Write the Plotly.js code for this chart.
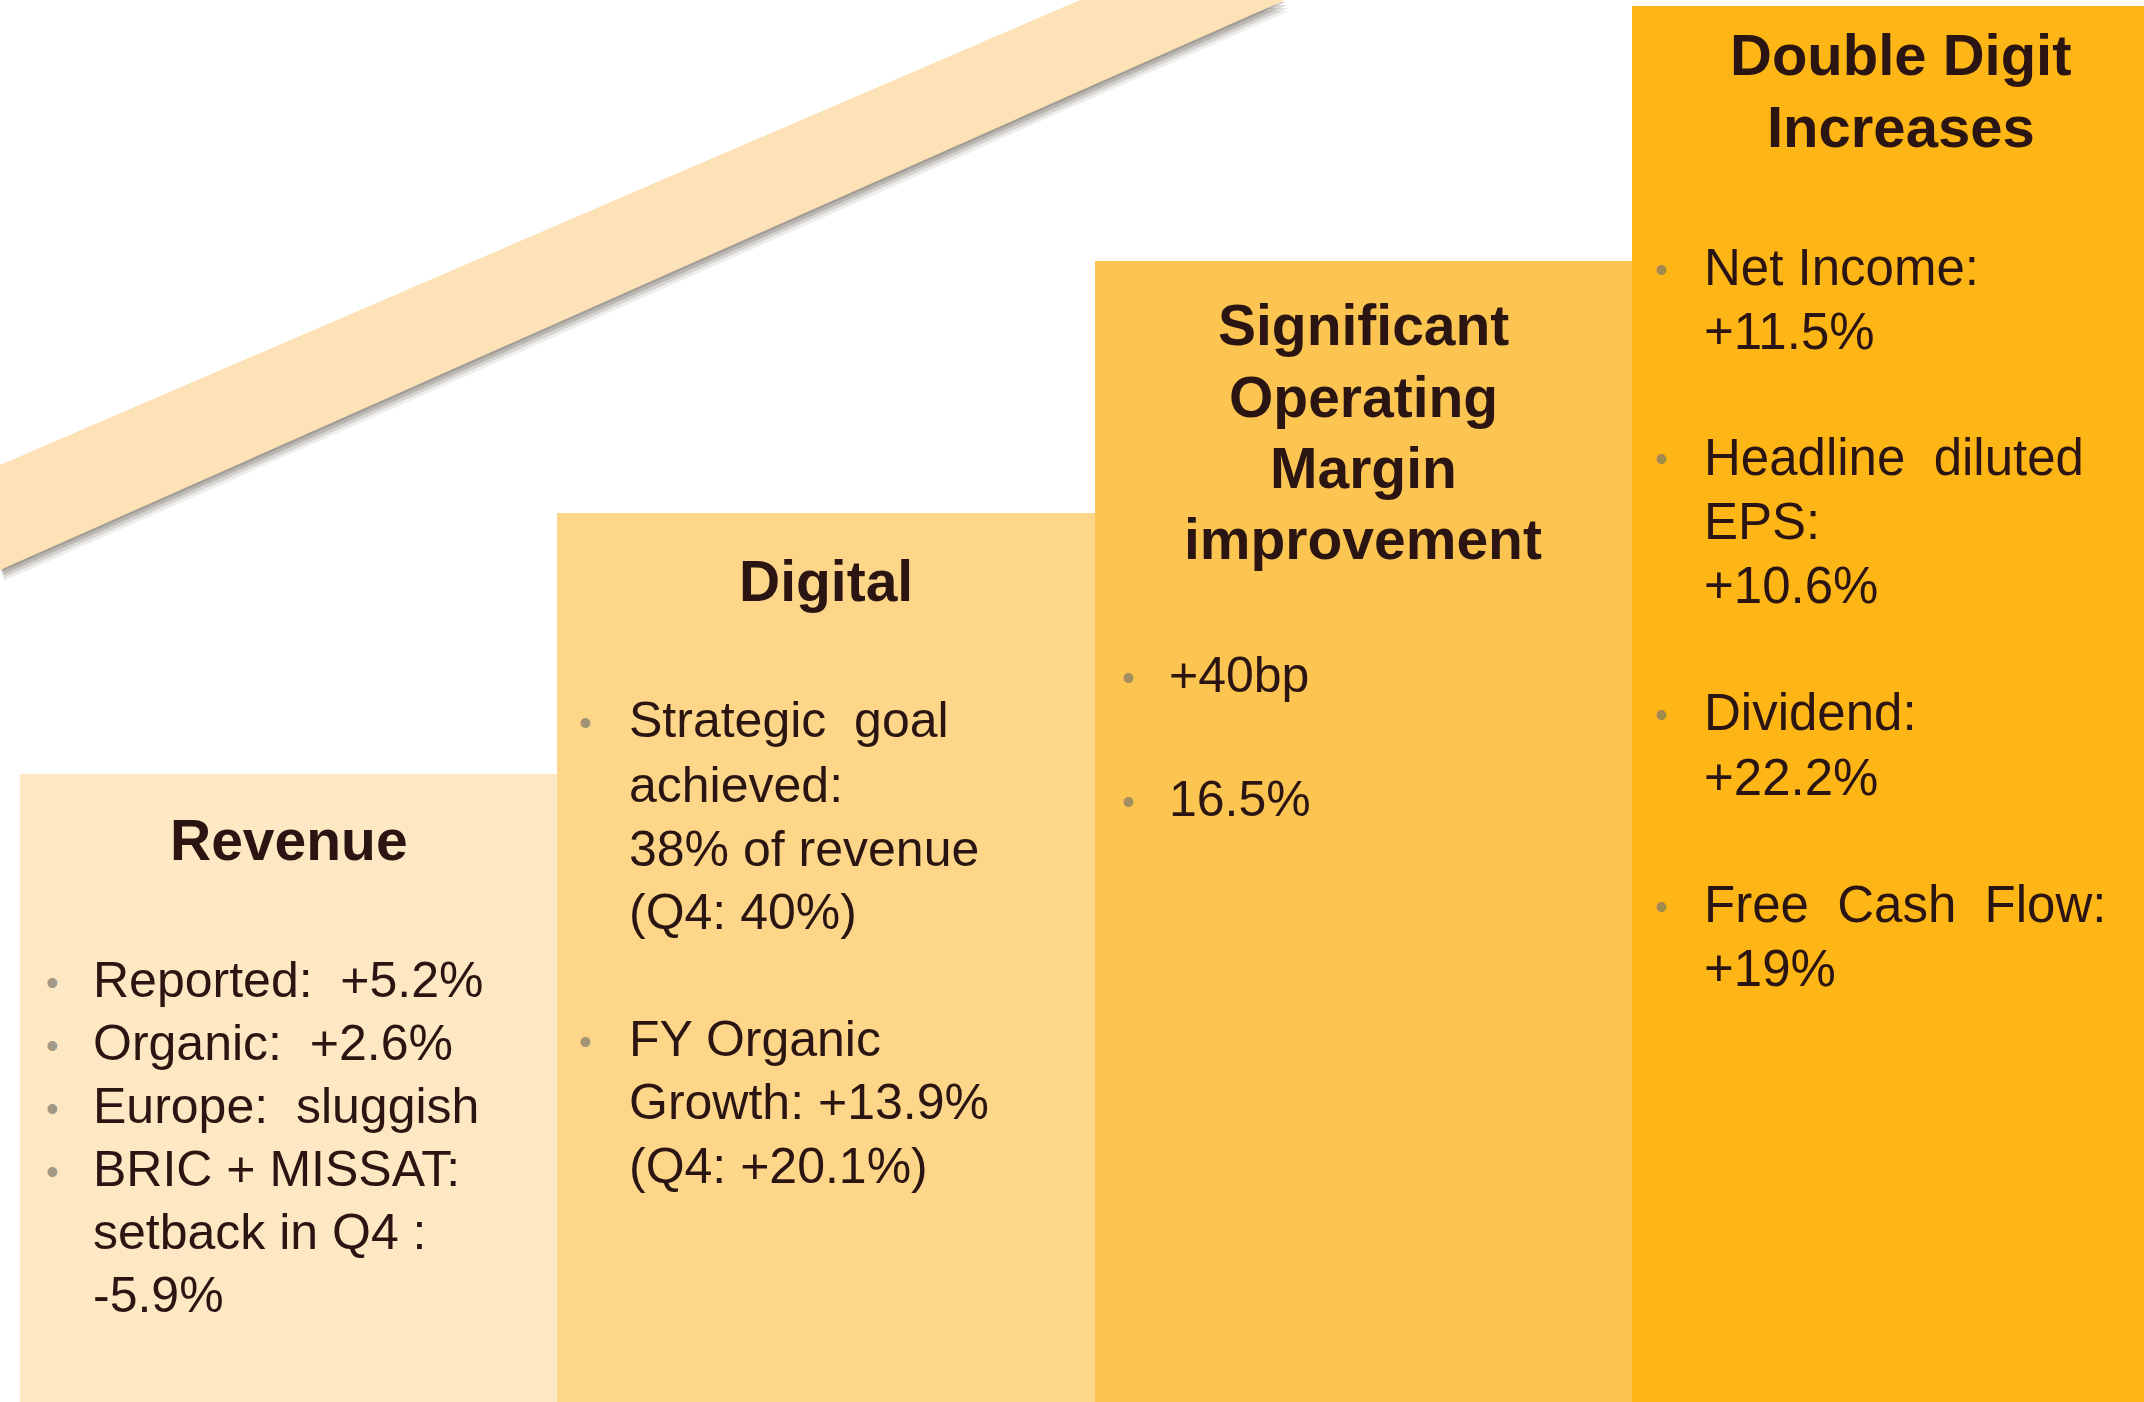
<!DOCTYPE html>
<html>
<head>
<meta charset="utf-8">
<script src="https://cdn.plot.ly/plotly-3.0.1.min.js"></script>
<style>html,body{margin:0;padding:0;background:#fff;}#chart{width:2144px;height:1402px;}</style>
</head>
<body>
<div id="chart"></div>
<script>
// ---- data ----
const categories = ['Revenue', 'Digital', 'Operating Margin', 'Double Digit Increases'];
const stepLevels = [44.8, 63.4, 81.4, 99.6];           // relative height of each step (% of full height)
const headings = [
  ['Revenue'],
  ['Digital'],
  ['Significant', 'Operating', 'Margin', 'improvement'],
  ['Double Digit', 'Increases']
];
const bullets = [
  [['Reported:\u00A0 +5.2%'], ['Organic:\u00A0 +2.6%'], ['Europe:\u00A0 sluggish'], ['BRIC + MISSAT:', 'setback in Q4 :', '-5.9%']],
  [['Strategic\u00A0 goal', 'achieved:', '38% of revenue', '(Q4: 40%)'], ['FY Organic', 'Growth: +13.9%', '(Q4: +20.1%)']],
  [['+40bp'], ['16.5%']],
  [['Net Income:', '+11.5%'], ['Headline\u00A0 diluted', 'EPS:', '+10.6%'], ['Dividend:', '+22.2%'], ['Free\u00A0 Cash\u00A0 Flow:', '+19%']]
];
// decorative rising band (drawn in page-pixel axes)
const bandX = [0, 1080, 1285, 0];
const bandY = [465, 0, 0, 570];

// ---- styles / layout ----
const W = 2144, H = 1402;
const barColors = ['#FDE8C3', '#FDD68A', '#FCC552', '#FEB516'];
const textColor = '#2A1512';
const font = 'Arial, Liberation Sans, sans-serif';
const headingY = [[840], [581], [325, 397, 468, 539], [55, 126]];
const lineY = [
  [980, 1043, 1106, 1169, 1232, 1295],
  [720, 785, 849, 912, 1039, 1102, 1166],
  [675, 799],
  [267, 331, 457, 521, 585, 712, 777, 904, 968]
];
const textX = [91, 627, 1167, 1702];
const dotX = [52, 585, 1128, 1661];
const bodySize = [50, 50, 50, 51];

const px = x => x / W, py = y => 1 - y / H;

const annotations = [];
headings.forEach((lines, i) => {
  lines.forEach((t, j) => {
    annotations.push({
      xref: 'x', yref: 'paper', x: i, y: py(headingY[i][j]),
      xanchor: 'center', yanchor: 'middle', showarrow: false,
      text: '<b>' + t + '</b>',
      font: {family: font, size: i === 3 ? 58 : 57, color: textColor}
    });
  });
});
bullets.forEach((items, i) => {
  let k = 0;
  items.forEach(item => {
    item.forEach((t, j) => {
      const y = lineY[i][k++];
      if (j === 0) {
        annotations.push({
          xref: 'paper', yref: 'paper', x: px(dotX[i]), y: py(y + 2),
          xanchor: 'center', yanchor: 'middle', showarrow: false,
          text: '\u2022', font: {family: font, size: 36, color: 'rgba(120,118,105,0.7)'}
        });
      }
      annotations.push({
        xref: 'paper', yref: 'paper', x: px(textX[i]), y: py(y),
        xanchor: 'left', yanchor: 'middle', showarrow: false,
        text: t, font: {family: font, size: bodySize[i], color: textColor}
      });
    });
  });
});

const shadow = (dx, dy, a) => ({
  type: 'scatter', mode: 'lines', xaxis: 'x2', yaxis: 'y2',
  x: bandX.map(v => v + dx), y: bandY.map(v => v + dy),
  fill: 'toself', fillcolor: 'rgba(90,80,70,' + a + ')', line: {width: 0},
  hoverinfo: 'skip', showlegend: false
});

const traces = [
  shadow(4, 11, 0.10),
  shadow(3, 8, 0.16),
  shadow(2, 5, 0.22),
  shadow(1, 2, 0.25),
  {
    type: 'scatter', mode: 'lines', xaxis: 'x2', yaxis: 'y2',
    x: bandX, y: bandY, fill: 'toself', fillcolor: '#FCE2B6', line: {width: 0},
    hoverinfo: 'skip', showlegend: false
  },
  {
    type: 'bar', x: categories, y: stepLevels, width: 1,
    marker: {color: barColors, line: {width: 0}},
    hoverinfo: 'skip', showlegend: false
  }
];

const layout = {
  width: W, height: H,
  margin: {l: 0, r: 0, t: 0, b: 0, pad: 0},
  paper_bgcolor: '#FFFFFF', plot_bgcolor: '#FFFFFF',
  bargap: 0,
  xaxis: {type: 'category', range: [-0.537, 3.453], visible: false, fixedrange: true},
  yaxis: {range: [0, 100], visible: false, fixedrange: true},
  xaxis2: {range: [0, W], overlaying: 'x', visible: false, fixedrange: true},
  yaxis2: {range: [H, 0], overlaying: 'y', visible: false, fixedrange: true},
  annotations: annotations,
  showlegend: false
};

Plotly.newPlot('chart', traces, layout, {displayModeBar: false, staticPlot: true});
</script>
</body>
</html>
